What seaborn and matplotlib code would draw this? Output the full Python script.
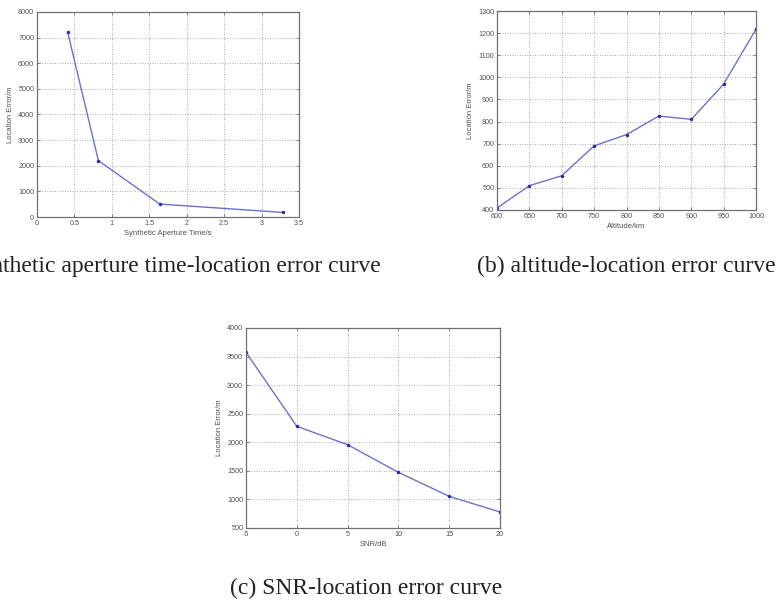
import matplotlib
matplotlib.use("Agg")
import matplotlib.pyplot as plt
import seaborn as sns
import pandas as pd

# ---- data ----
aperture_time = [0.41, 0.82, 1.64, 3.28]
aperture_error = [7210, 2200, 505, 180]

altitude_km = [600, 650, 700, 750, 800, 850, 900, 950, 1000]
altitude_error = [409, 510, 555, 690, 741, 825, 810, 969, 1218]

snr_db = [-5, 0, 5, 10, 15, 20]
snr_error = [3575, 2279, 1958, 1474, 1054, 780]

a_xticks = [0, 0.5, 1, 1.5, 2, 2.5, 3, 3.5]
a_xticklabels = ["0", "0.5", "1", "1.5", "2", "2.5", "3", "3.5"]
a_yticks = [0, 1000, 2000, 3000, 4000, 5000, 6000, 7000, 8000]
b_xticks = [600, 650, 700, 750, 800, 850, 900, 950, 1000]
b_yticks = [400, 500, 600, 700, 800, 900, 1000, 1100, 1200, 1300]
c_xticks = [-5, 0, 5, 10, 15, 20]
c_yticks = [500, 1000, 1500, 2000, 2500, 3000, 3500, 4000]

caption_a = "(a) synthetic aperture time-location error curve"
caption_b = "(b) altitude-location error curve"
caption_c = "(c) SNR-location error curve"

sns.set_style("white")
plt.rcParams['font.family'] = ['Liberation Sans', 'DejaVu Sans']
plt.rcParams['axes.unicode_minus'] = False

W, H = 778, 603
fig = plt.figure(figsize=(W / 100, H / 100), dpi=100)

def px_axes(l, r, t, b):
    return fig.add_axes([l / W, 1 - b / H, (r - l) / W, (b - t) / H])

line_color = "#7070d0"
marker_color = "#2a2aa0"
txt_color = "#505050"
spine_color = "#707070"

def style(ax, x, y, xticks, yticks, xlabel, xlim, ylim, xticklabels=None):
    df = pd.DataFrame({"x": x, "y": y})
    sns.lineplot(data=df, x="x", y="y", ax=ax, color=line_color, linewidth=1.0,
                 marker="o", markersize=2.2, markerfacecolor=marker_color,
                 markeredgecolor=marker_color, markeredgewidth=0.3)
    ax.set_xlim(*xlim)
    ax.set_ylim(*ylim)
    ax.set_xticks(xticks)
    if xticklabels is not None:
        ax.set_xticklabels(xticklabels)
    ax.set_yticks(yticks)
    ax.grid(True, linestyle=(0, (1, 2)), color="#909090", linewidth=0.6)
    for s in ax.spines.values():
        s.set_color(spine_color)
        s.set_linewidth(0.9)
        s.set_visible(True)
    ax.tick_params(direction="in", length=2.5, width=0.6, color=spine_color,
                   labelsize=5.2, labelcolor=txt_color, pad=2,
                   top=True, right=True, bottom=True, left=True)
    ax.set_xlabel(xlabel, fontsize=5.5, color=txt_color, labelpad=2)
    ax.set_ylabel("Location Error/m", fontsize=5.5, color=txt_color, labelpad=3)

ax_a = px_axes(37, 299, 12, 217)
style(ax_a, aperture_time, aperture_error, a_xticks, a_yticks,
      "Synthetic Aperture Time/s", (0, 3.5), (0, 8000), a_xticklabels)

ax_b = px_axes(497, 756, 11, 210)
style(ax_b, altitude_km, altitude_error, b_xticks, b_yticks,
      "Altitude/km", (600, 1000), (400, 1300))

ax_c = px_axes(246, 500, 328, 528)
style(ax_c, snr_db, snr_error, c_xticks, c_yticks,
      "SNR/dB", (-5, 20), (500, 4000))

serif = ['Liberation Serif', 'DejaVu Serif']
fig.text(159 / W, 1 - 266 / H, caption_a, ha="center", va="center",
         fontsize=17, family=serif, color="#222222")
fig.text(626 / W, 1 - 266 / H, caption_b, ha="center", va="center",
         fontsize=17, family=serif, color="#222222")
fig.text(366 / W, 1 - 588 / H, caption_c, ha="center", va="center",
         fontsize=17, family=serif, color="#222222")

fig.savefig("out.png", dpi=100, facecolor="white")
